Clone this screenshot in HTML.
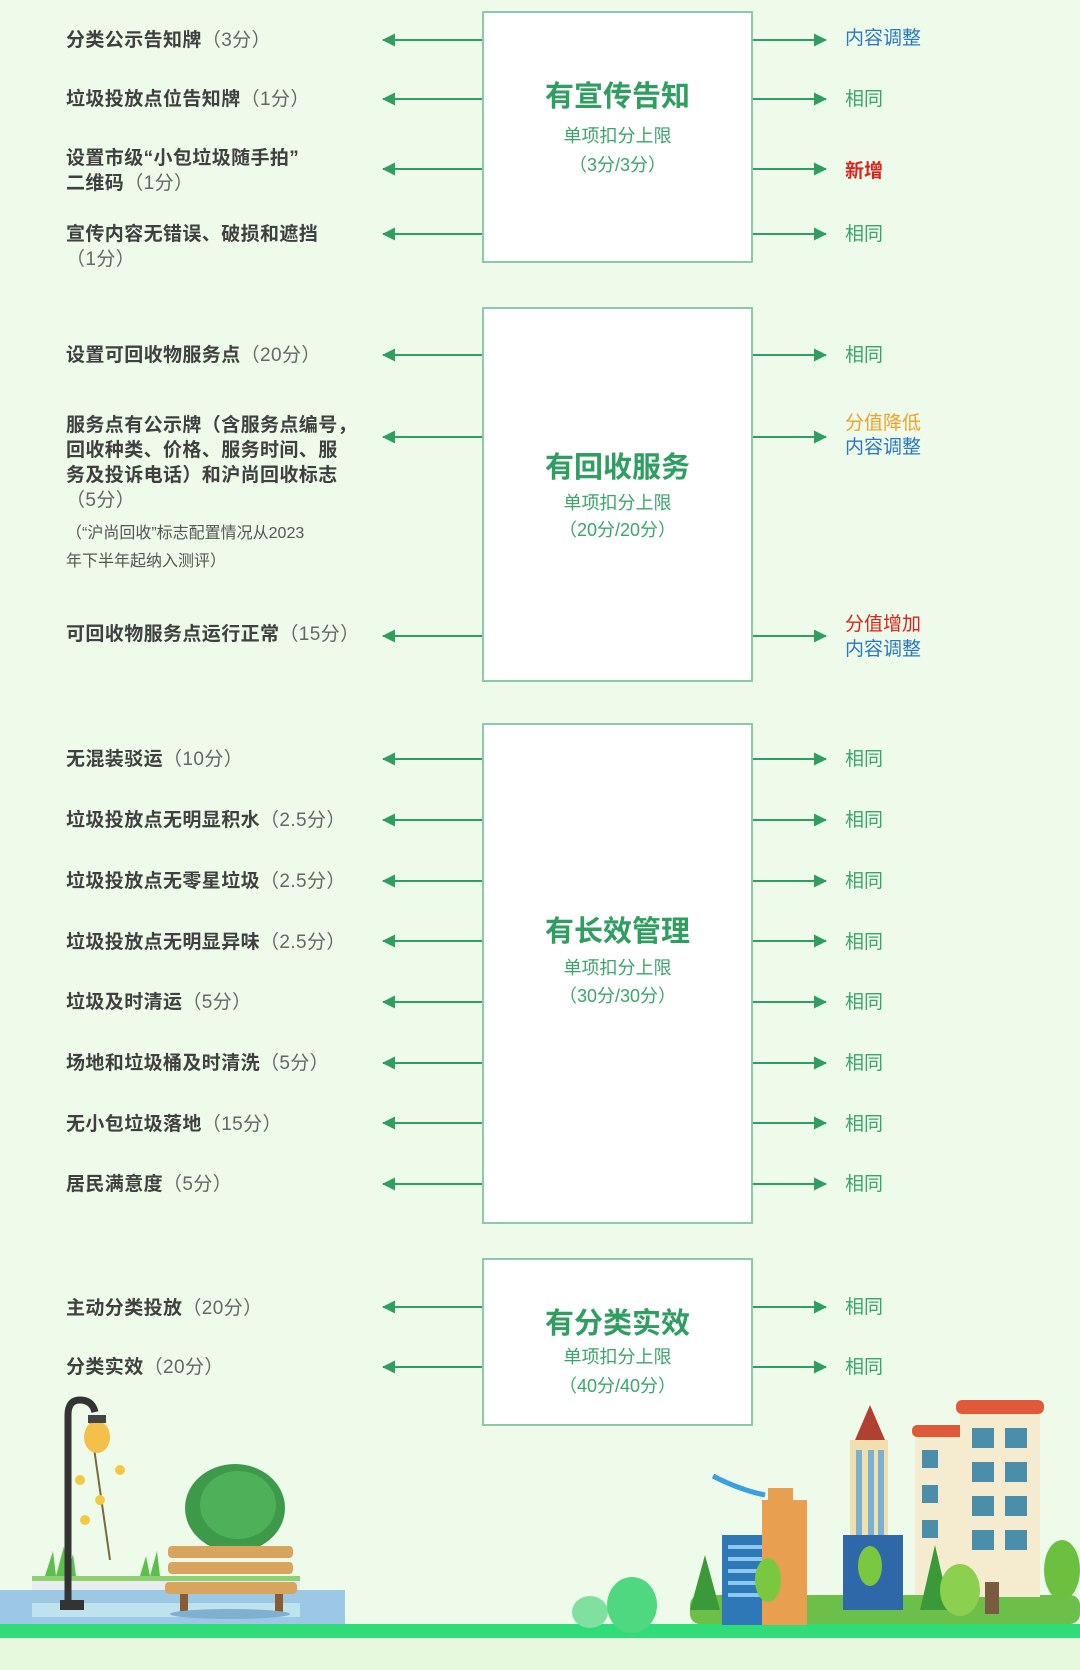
<!DOCTYPE html>
<html><head><meta charset="utf-8"><style>
*{margin:0;padding:0;box-sizing:border-box}
body{width:1080px;height:1670px;background:#eefbea;position:relative;overflow:hidden;font-family:"Liberation Sans","Noto Sans CJK SC",sans-serif}
.t{position:absolute;left:66px;font-size:19px;font-weight:bold;color:#404040;line-height:25px;white-space:nowrap;letter-spacing:0.4px}
.t span{font-weight:normal;color:#666}
.n{position:absolute;left:66px;font-size:16px;color:#555;line-height:28px;white-space:nowrap}
.r{position:absolute;left:845px;font-size:19px;line-height:25px;white-space:nowrap}
.g{color:#3aa56a}.b{color:#2a78c0}.red{color:#d8241c;font-weight:bold}.o{color:#f0a02a}
.box{position:absolute;left:482px;width:271px;background:#fff;border:2px solid #8cc9ac;text-align:center;color:#2f9e60}
.box h{position:absolute;left:0;right:0;font-size:29px;font-weight:bold}
.box p{position:absolute;left:0;right:0;font-size:18px;line-height:29px;color:#3aa56a}
svg.c{position:absolute;left:0;top:0}
</style></head><body>
<svg class="c" width="1080" height="1670">
<defs>
<marker id="a" markerWidth="13" markerHeight="13" refX="12" refY="6.5" orient="auto" markerUnits="userSpaceOnUse"><path d="M0,0 L13,6.5 L0,13z" fill="#2f9e60"/></marker>
</defs>
<g stroke="#2f9e60" stroke-width="2" marker-end="url(#a)">
<line x1="482" y1="40" x2="383" y2="40"/><line x1="753" y1="40" x2="826" y2="40"/>
<line x1="482" y1="99" x2="383" y2="99"/><line x1="753" y1="99" x2="826" y2="99"/>
<line x1="482" y1="169" x2="383" y2="169"/><line x1="753" y1="169" x2="826" y2="169"/>
<line x1="482" y1="234" x2="383" y2="234"/><line x1="753" y1="234" x2="826" y2="234"/>
<line x1="482" y1="355" x2="383" y2="355"/><line x1="753" y1="355" x2="826" y2="355"/>
<line x1="482" y1="437" x2="383" y2="437"/><line x1="753" y1="437" x2="826" y2="437"/>
<line x1="482" y1="636" x2="383" y2="636"/><line x1="753" y1="636" x2="826" y2="636"/>
<line x1="482" y1="759" x2="383" y2="759"/><line x1="753" y1="759" x2="826" y2="759"/>
<line x1="482" y1="820" x2="383" y2="820"/><line x1="753" y1="820" x2="826" y2="820"/>
<line x1="482" y1="881" x2="383" y2="881"/><line x1="753" y1="881" x2="826" y2="881"/>
<line x1="482" y1="941" x2="383" y2="941"/><line x1="753" y1="941" x2="826" y2="941"/>
<line x1="482" y1="1002" x2="383" y2="1002"/><line x1="753" y1="1002" x2="826" y2="1002"/>
<line x1="482" y1="1063" x2="383" y2="1063"/><line x1="753" y1="1063" x2="826" y2="1063"/>
<line x1="482" y1="1123" x2="383" y2="1123"/><line x1="753" y1="1123" x2="826" y2="1123"/>
<line x1="482" y1="1184" x2="383" y2="1184"/><line x1="753" y1="1184" x2="826" y2="1184"/>
<line x1="482" y1="1307" x2="383" y2="1307"/><line x1="753" y1="1307" x2="826" y2="1307"/>
<line x1="482" y1="1367" x2="383" y2="1367"/><line x1="753" y1="1367" x2="826" y2="1367"/>
</g>
<rect x="0" y="1624" width="1080" height="14" fill="#2fdc78"/>
<rect x="0" y="1638" width="1080" height="32" fill="#e6f9dc"/>
<rect x="0" y="1590" width="345" height="34" fill="#9cc8e6"/>
<rect x="32" y="1603" width="268" height="14" fill="#bfe3ee"/>
<rect x="32" y="1580" width="268" height="10" fill="#e8ecef"/>
<rect x="32" y="1576" width="268" height="5" fill="#8fd070"/>
<path d="M45 1576 l8-25 l3 25 l8-30 l3 30 l6-22 l3 22z" fill="#5cbf4c"/>
<path d="M140 1576 l6-20 l4 20 l7-25 l3 25z" fill="#5cbf4c"/>
<line x1="90" y1="1420" x2="110" y2="1560" stroke="#7a6a3a" stroke-width="2"/>
<circle cx="80" cy="1480" r="5" fill="#f5c842"/><circle cx="100" cy="1500" r="5" fill="#f5c842"/><circle cx="120" cy="1470" r="5" fill="#f5c842"/><circle cx="85" cy="1520" r="5" fill="#f5c842"/>
<path d="M68 1600 V1415 Q68 1400 80 1400 Q92 1400 95 1412" fill="none" stroke="#333" stroke-width="7"/>
<ellipse cx="97" cy="1437" rx="13" ry="16" fill="#f5c04a"/><rect x="88" y="1415" width="18" height="8" fill="#444"/>
<rect x="60" y="1600" width="24" height="10" fill="#333"/>
<ellipse cx="235" cy="1508" rx="50" ry="44" fill="#3c9a4a"/><ellipse cx="238" cy="1505" rx="38" ry="34" fill="#4fb05a"/>
<rect x="168" y="1546" width="125" height="12" rx="4" fill="#d9a45e"/><rect x="168" y="1562" width="125" height="12" rx="4" fill="#d9a45e"/>
<rect x="165" y="1582" width="132" height="12" rx="4" fill="#d9a45e"/>
<rect x="180" y="1594" width="8" height="20" fill="#8a5a30"/><rect x="275" y="1594" width="8" height="20" fill="#8a5a30"/>
<ellipse cx="230" cy="1614" rx="60" ry="5" fill="#7fb0d0"/>
<ellipse cx="590" cy="1612" rx="18" ry="16" fill="#7fe0a0"/><ellipse cx="632" cy="1605" rx="25" ry="28" fill="#4fd880"/>
<rect x="690" y="1595" width="390" height="29" rx="10" fill="#6cc04a"/>
<rect x="722" y="1535" width="48" height="90" fill="#2f78b8"/>
<g fill="#8cc8f0"><rect x="728" y="1545" width="36" height="4"/><rect x="728" y="1557" width="36" height="4"/><rect x="728" y="1569" width="36" height="4"/><rect x="728" y="1581" width="36" height="4"/><rect x="728" y="1593" width="36" height="4"/></g>
<rect x="762" y="1500" width="45" height="125" fill="#e8a050"/><rect x="768" y="1488" width="25" height="14" fill="#e8a050"/>
<path d="M713 1476 Q740 1490 765 1495" stroke="#3aa0e0" stroke-width="5" fill="none"/>
<rect x="850" y="1440" width="38" height="150" fill="#f0e0b0"/><path d="M855 1440 L870 1405 L885 1440z" fill="#b04030"/>
<g fill="#7ab0d0"><rect x="856" y="1450" width="6" height="130"/><rect x="868" y="1450" width="6" height="130"/><rect x="878" y="1450" width="6" height="130"/></g>
<rect x="843" y="1535" width="60" height="75" fill="#2f68a8"/>
<rect x="915" y="1435" width="50" height="160" fill="#f5ecd0"/><rect x="912" y="1425" width="56" height="12" rx="5" fill="#e05a3a"/>
<rect x="960" y="1412" width="80" height="185" fill="#f5ecd0"/><rect x="956" y="1400" width="88" height="14" rx="6" fill="#e05a3a"/>
<g fill="#4a8eaa"><rect x="972" y="1428" width="22" height="20"/><rect x="1005" y="1428" width="22" height="20"/><rect x="972" y="1462" width="22" height="20"/><rect x="1005" y="1462" width="22" height="20"/><rect x="972" y="1496" width="22" height="20"/><rect x="1005" y="1496" width="22" height="20"/><rect x="972" y="1530" width="22" height="20"/><rect x="1005" y="1530" width="22" height="20"/><rect x="922" y="1450" width="16" height="18"/><rect x="922" y="1485" width="16" height="18"/><rect x="922" y="1520" width="16" height="18"/></g>
<rect x="985" y="1582" width="14" height="32" fill="#7a5a40"/>
<path d="M690 1610 L705 1555 L720 1610z" fill="#3a9a3a"/><path d="M920 1610 L935 1545 L950 1610z" fill="#3a9a3a"/>
<ellipse cx="768" cy="1580" rx="13" ry="22" fill="#7ac840"/><ellipse cx="870" cy="1566" rx="12" ry="20" fill="#7ac840"/><ellipse cx="960" cy="1590" rx="20" ry="26" fill="#8cd050"/><ellipse cx="1062" cy="1570" rx="18" ry="30" fill="#6cc040"/>
</svg>

<div class="box" style="top:11px;height:252px"><h style="top:60px">有宣传告知</h><p style="top:109px">单项扣分上限</p><p style="top:138px">（3分/3分）</p></div>
<div class="box" style="top:307px;height:375px"><h style="top:135px">有回收服务</h><p style="top:180px">单项扣分上限</p><p style="top:207px">（20分/20分）</p></div>
<div class="box" style="top:723px;height:501px"><h style="top:183px">有长效管理</h><p style="top:229px">单项扣分上限</p><p style="top:257px">（30分/30分）</p></div>
<div class="box" style="top:1258px;height:168px"><h style="top:40px">有分类实效</h><p style="top:83px">单项扣分上限</p><p style="top:112px">（40分/40分）</p></div>

<div class="t" style="top:28px">分类公示告知牌<span>（3分）</span></div>
<div class="t" style="top:87px">垃圾投放点位告知牌<span>（1分）</span></div>
<div class="t" style="top:146px">设置市级“小包垃圾随手拍”<br>二维码<span>（1分）</span></div>
<div class="t" style="top:222px">宣传内容无错误、破损和遮挡<br><span>（1分）</span></div>
<div class="t" style="top:343px">设置可回收物服务点<span>（20分）</span></div>
<div class="t" style="top:413px">服务点有公示牌（含服务点编号，<br>回收种类、价格、服务时间、服<br>务及投诉电话）和沪尚回收标志<br><span>（5分）</span></div>
<div class="n" style="top:520px">（“沪尚回收”标志配置情况从2023<br>年下半年起纳入测评）</div>
<div class="t" style="top:622px">可回收物服务点运行正常<span>（15分）</span></div>
<div class="t" style="top:747px">无混装驳运<span>（10分）</span></div>
<div class="t" style="top:808px">垃圾投放点无明显积水<span>（2.5分）</span></div>
<div class="t" style="top:869px">垃圾投放点无零星垃圾<span>（2.5分）</span></div>
<div class="t" style="top:930px">垃圾投放点无明显异味<span>（2.5分）</span></div>
<div class="t" style="top:990px">垃圾及时清运<span>（5分）</span></div>
<div class="t" style="top:1051px">场地和垃圾桶及时清洗<span>（5分）</span></div>
<div class="t" style="top:1112px">无小包垃圾落地<span>（15分）</span></div>
<div class="t" style="top:1172px">居民满意度<span>（5分）</span></div>
<div class="t" style="top:1296px">主动分类投放<span>（20分）</span></div>
<div class="t" style="top:1355px">分类实效<span>（20分）</span></div>

<div class="r b" style="top:26px">内容调整</div>
<div class="r g" style="top:87px">相同</div>
<div class="r red" style="top:159px">新增</div>
<div class="r g" style="top:222px">相同</div>
<div class="r g" style="top:343px">相同</div>
<div class="r o" style="top:411px">分值降低</div>
<div class="r b" style="top:435px">内容调整</div>
<div class="r red" style="top:612px;font-weight:normal">分值增加</div>
<div class="r b" style="top:637px">内容调整</div>
<div class="r g" style="top:747px">相同</div>
<div class="r g" style="top:808px">相同</div>
<div class="r g" style="top:869px">相同</div>
<div class="r g" style="top:930px">相同</div>
<div class="r g" style="top:990px">相同</div>
<div class="r g" style="top:1051px">相同</div>
<div class="r g" style="top:1112px">相同</div>
<div class="r g" style="top:1172px">相同</div>
<div class="r g" style="top:1295px">相同</div>
<div class="r g" style="top:1355px">相同</div>
</body></html>
